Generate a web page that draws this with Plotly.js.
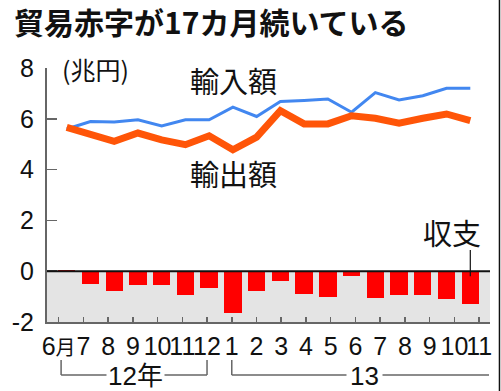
<!DOCTYPE html>
<html>
<head>
<meta charset="utf-8">
<script src="https://cdn.plot.ly/plotly-3.0.1.min.js"></script>
<style>html,body{margin:0;padding:0;background:#fff;}#chart{width:501px;height:391px;}</style>
</head>
<body>
<div id="chart"></div>
<script>
// Months: Jun 2012 – Nov 2013
const months = ['6月','7','8','9','10','11','12','1','2','3','4','5','6','7','8','9','10','11'];
// 輸入額 (imports, trillion yen)
const imports = [5.60, 5.89, 5.87, 5.96, 5.72, 5.96, 5.96, 6.46, 6.09, 6.68, 6.72, 6.78, 6.26, 7.03, 6.74, 6.91, 7.20, 7.20];
// 輸出額 (exports, trillion yen)
const exports = [5.66, 5.38, 5.11, 5.44, 5.17, 4.98, 5.33, 4.78, 5.28, 6.32, 5.80, 5.80, 6.12, 6.02, 5.83, 6.02, 6.19, 5.93];
// 収支 (balance, trillion yen)
const balance = [0.05, -0.52, -0.76, -0.56, -0.55, -0.95, -0.65, -1.63, -0.78, -0.37, -0.88, -1.00, -0.17, -1.05, -0.95, -0.94, -1.10, -1.31];
// y tick values/labels
const yTickVals = [-2, 0, 2, 4, 6, 8];
const yTickText = ['-2', '0', '2', '4', '6', '8'];

const idx = months.map((_, i) => i);
const tickText = months.map(m => m.replace('月', '<span style="font-size:20px">月</span>'));
const NUM = '"Liberation Sans Narrow", "Arial Narrow", "Liberation Sans", "Noto Sans CJK JP", sans-serif';
const CJK = '"Noto Sans CJK JP", "Noto Sans CJK SC", sans-serif';
const last = months.length - 1;

const traces = [
  {type: 'bar', x: idx, y: balance, width: 0.73, marker: {color: '#ff0000', line: {width: 0}},
   xaxis: 'x', yaxis: 'y', hoverinfo: 'skip', showlegend: false},
  {type: 'scatter', mode: 'lines', x: idx, y: imports, line: {color: '#4287f0', width: 3},
   xaxis: 'x', yaxis: 'y', hoverinfo: 'skip', showlegend: false},
  {type: 'scatter', mode: 'lines', x: idx, y: exports, line: {color: '#ff5508', width: 7},
   xaxis: 'x', yaxis: 'y', hoverinfo: 'skip', showlegend: false},
  // invisible trace to activate the tick axis
  {type: 'scatter', mode: 'markers', x: [0], y: [0], marker: {opacity: 0}, xaxis: 'x2', yaxis: 'y',
   hoverinfo: 'skip', showlegend: false}
];

const layout = {
  width: 501, height: 391,
  margin: {l: 47, r: 11, t: 68, b: 69, pad: 0},
  paper_bgcolor: '#ffffff', plot_bgcolor: '#ffffff',
  showlegend: false,
  bargap: 0,
  title: {text: '貿易赤字が17カ月続いている', font: {family: CJK, size: 30, color: '#111', weight: 700},
          x: 14/501, xanchor: 'left', xref: 'container', y: 1 - 23/391, yanchor: 'middle', yref: 'container'},
  xaxis: {range: [-0.83, 17.83], showline: false, showgrid: false, zeroline: false,
          showticklabels: false, ticks: '', fixedrange: true},
  xaxis2: {overlaying: 'x', anchor: 'y', side: 'bottom', range: [-0.47, 17.44],
           tickmode: 'array', tickvals: idx, ticktext: tickText, tickangle: 0,
           ticks: 'inside', ticklen: 5, tickwidth: 1.5, tickcolor: '#666',
           showline: true, linecolor: '#666', linewidth: 2,
           showgrid: false, zeroline: false,
           tickfont: {family: NUM, size: 25, color: '#111'}, ticklabelstandoff: 1},
  yaxis: {range: [-2, 8], tickmode: 'array', tickvals: yTickVals, ticktext: yTickText,
          ticks: 'inside', ticklen: 10, tickwidth: 1.5, tickcolor: '#666',
          showline: true, linecolor: '#666', linewidth: 2,
          showgrid: false, zeroline: false,
          tickfont: {family: NUM, size: 25, color: '#111'}, ticklabelstandoff: 6},
  shapes: [
    {type: 'rect', xref: 'paper', yref: 'y', x0: 0, x1: 1, y0: -2, y1: 0,
     fillcolor: '#e4e4e4', line: {width: 0}, layer: 'below'},
    {type: 'line', xref: 'paper', yref: 'y', x0: 0, x1: 1, y0: 0, y1: 0,
     line: {color: '#111', width: 2}, layer: 'above'},
    // pointer from 収支 label to last bar
    {type: 'line', xref: 'x', yref: 'paper', x0: last, x1: last, y0: 0.283, y1: 0.18,
     line: {color: '#111', width: 1.2}, layer: 'above'},
    // year brackets
    {type: 'line', xref: 'x2', yref: 'paper', x0: 0.1, x1: 0.1, y0: -0.15, y1: -0.209, line: {color: '#666', width: 1.5}},
    {type: 'line', xref: 'x2', yref: 'paper', x0: 0.1, x1: 6, y0: -0.209, y1: -0.209, line: {color: '#666', width: 1.5}},
    {type: 'line', xref: 'x2', yref: 'paper', x0: 6, x1: 6, y0: -0.15, y1: -0.209, line: {color: '#666', width: 1.5}},
    {type: 'line', xref: 'x2', yref: 'paper', x0: 7, x1: 7, y0: -0.15, y1: -0.209, line: {color: '#666', width: 1.5}},
    {type: 'line', xref: 'x2', yref: 'paper', x0: 7, x1: 17.4, y0: -0.209, y1: -0.209, line: {color: '#666', width: 1.5}},
    // right frame edge
    {type: 'line', xref: 'paper', yref: 'paper', x0: 1.0214, x1: 1.0214, y0: -0.3, y1: 1.3, line: {color: '#111', width: 1.5}}
  ],
  annotations: [
    {text: '(兆円)', xref: 'paper', yref: 'paper', x: 0.029, y: 0.996, xanchor: 'left', yanchor: 'middle',
     showarrow: false, font: {family: CJK, size: 25, color: '#111'}},
    {text: '輸入額', xref: 'paper', yref: 'paper', x: 0.42, y: 0.953, xanchor: 'center', yanchor: 'middle',
     showarrow: false, font: {family: CJK, size: 29, color: '#111'}},
    {text: '輸出額', xref: 'paper', yref: 'paper', x: 0.42, y: 0.585, xanchor: 'center', yanchor: 'middle',
     showarrow: false, font: {family: CJK, size: 29, color: '#111'}},
    {text: '収支', xref: 'paper', yref: 'paper', x: 0.914, y: 0.356, xanchor: 'center', yanchor: 'middle',
     showarrow: false, font: {family: CJK, size: 29, color: '#111'}},
    {text: '12年', xref: 'x2', yref: 'paper', x: 3.1, y: -0.212, xanchor: 'center', yanchor: 'middle',
     showarrow: false, bgcolor: '#ffffff', borderpad: 1, font: {family: NUM, size: 26, color: '#111'}},
    {text: '13', xref: 'x2', yref: 'paper', x: 12.35, y: -0.212, xanchor: 'center', yanchor: 'middle',
     showarrow: false, bgcolor: '#ffffff', borderpad: 3, font: {family: NUM, size: 26, color: '#111'}}
  ]
};

Plotly.newPlot('chart', traces, layout, {staticPlot: true, displayModeBar: false});
</script>
</body>
</html>
